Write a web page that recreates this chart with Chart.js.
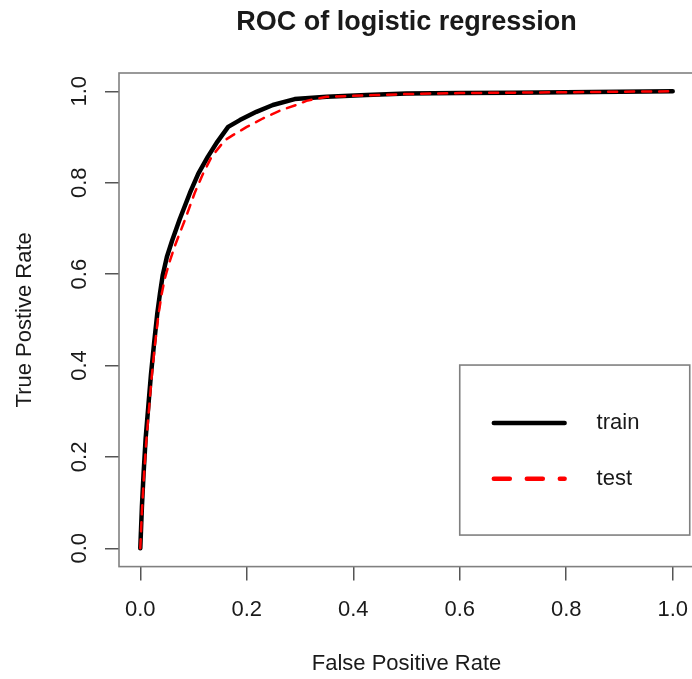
<!DOCTYPE html>
<html><head><meta charset="utf-8">
<script src="https://cdn.jsdelivr.net/npm/chart.js@4.4.0/dist/chart.umd.min.js"></script>
<style>html,body{margin:0;padding:0;background:#fff;overflow:hidden;width:692px;height:679px}</style>
</head><body>
<canvas id="c" width="700" height="679" style="display:block;width:700px;height:679px"></canvas>
<script>
// ---- data ----
const trainFPR = [0, 0.003, 0.006, 0.010, 0.015, 0.020, 0.026, 0.032, 0.037, 0.042, 0.050, 0.060, 0.074, 0.093, 0.109, 0.127, 0.145, 0.165, 0.187, 0.218, 0.249, 0.29, 0.35, 0.425, 0.5, 0.6, 0.7, 0.8, 0.9, 1.0];
const trainTPR = [0, 0.09, 0.16, 0.24, 0.31, 0.38, 0.45, 0.515, 0.558, 0.597, 0.638, 0.674, 0.72, 0.777, 0.82, 0.857, 0.89, 0.922, 0.937, 0.955, 0.970, 0.983, 0.988, 0.992, 0.995, 0.996, 0.997, 0.998, 0.999, 1.0];
const testFPR = [0, 0.003, 0.007, 0.011, 0.016, 0.021, 0.027, 0.034, 0.040, 0.046, 0.055, 0.065, 0.0836, 0.102, 0.118, 0.134, 0.159, 0.174, 0.2, 0.231, 0.265, 0.293, 0.312, 0.35, 0.425, 0.5, 0.6, 0.7, 0.8, 0.9, 1.0];
const testTPR = [0, 0.08, 0.16, 0.23, 0.30, 0.37, 0.44, 0.51, 0.555, 0.59, 0.627, 0.662, 0.718, 0.777, 0.82, 0.857, 0.893, 0.904, 0.922, 0.941, 0.959, 0.970, 0.979, 0.988, 0.991, 0.994, 0.996, 0.997, 0.998, 0.999, 1.0];
const xTicks = [0, 0.2, 0.4, 0.6, 0.8, 1.0];
const yTicks = [0, 0.2, 0.4, 0.6, 0.8, 1.0];
const seriesNames = ['train', 'test'];
const chartTitle = 'ROC of logistic regression';
const xTitle = 'False Positive Rate';
const yTitle = 'True Postive Rate';

const FONT = "'Liberation Sans', Arial, Helvetica, sans-serif";
const TXT = '#1a1a1a';
Chart.defaults.font.family = FONT;

const boxPlugin = {
  id: 'rbox',
  beforeDatasetsDraw(chart) {
    const {ctx, chartArea: a} = chart;
    ctx.save();
    ctx.strokeStyle = '#808080';
    ctx.lineWidth = 1.6;
    ctx.strokeRect(a.left, a.top, a.right - a.left, a.bottom - a.top);
    ctx.restore();
  }
};

const legendPlugin = {
  id: 'rlegend',
  afterDraw(chart) {
    const {ctx} = chart;
    const xs = chart.scales.x, ys = chart.scales.y;
    const X = v => xs.getPixelForValue(v), Y = v => ys.getPixelForValue(v);
    ctx.save();
    ctx.strokeStyle = '#808080';
    ctx.lineWidth = 1.6;
    const x0 = X(0.6), x1 = X(1.032), y0 = Y(0.401), y1 = Y(0.029);
    ctx.strokeRect(x0, y0, x1 - x0, y1 - y0);
    const rows = [0.274, 0.152];
    const ds = chart.data.datasets;
    rows.forEach((r, i) => {
      const y = Y(r);
      ctx.beginPath();
      ctx.lineCap = 'round';
      ctx.strokeStyle = ds[i].borderColor;
      ctx.lineWidth = 4.5;
      ctx.setLineDash(i === 0 ? [] : [16, 17]);
      ctx.moveTo(X(0.664), y);
      ctx.lineTo(X(0.797), y);
      ctx.stroke();
      ctx.setLineDash([]);
      ctx.fillStyle = TXT;
      ctx.font = '22px ' + FONT;
      ctx.textBaseline = 'middle';
      ctx.textAlign = 'left';
      ctx.fillText(ds[i].label, X(0.857), y);
    });
    ctx.restore();
  }
};

const mk = (xs, ys) => xs.map((x, i) => ({x: x, y: ys[i]}));

new Chart(document.getElementById('c'), {
  type: 'scatter',
  data: {
    datasets: [
      {label: seriesNames[0], data: mk(trainFPR, trainTPR), showLine: true, pointRadius: 0,
       borderColor: '#000000', borderWidth: 4.5, borderCapStyle: 'round', borderJoinStyle: 'round', tension: 0, order: 2},
      {label: seriesNames[1], data: mk(testFPR, testTPR), showLine: true, pointRadius: 0,
       borderColor: '#ff0000', borderWidth: 2.5, borderDash: [9, 8], borderCapStyle: 'round', borderJoinStyle: 'round', tension: 0, order: 1}
    ]
  },
  options: {
    responsive: false,
    animation: false,
    layout: {padding: {left: 0, right: 6, top: 0, bottom: 0}},
    plugins: {
      legend: {display: false},
      tooltip: {enabled: false},
      title: {display: true, text: chartTitle, fullSize: false, color: TXT,
              font: {family: FONT, size: 27, weight: 'bold'}, padding: {top: 6.3, bottom: 34.3}}
    },
    scales: {
      x: {
        type: 'linear', position: 'bottom', min: -0.04, max: 1.04,
        afterBuildTicks: s => { s.ticks = xTicks.map(v => ({value: v})); },
        afterFit: s => { s.height = 112.4; s.paddingLeft = 0; s.paddingRight = 0; },
        grid: {drawOnChartArea: false, drawTicks: true, tickLength: 14, color: '#555', lineWidth: 1.5},
        border: {display: false},
        ticks: {padding: 16.6, color: TXT, font: {family: FONT, size: 22}, autoSkip: false,
                minRotation: 0, maxRotation: 0, callback: v => Number(v).toFixed(1)},
        title: {display: true, text: xTitle, color: TXT, font: {family: FONT, size: 22}, padding: {top: 0, bottom: 1.8}}
      },
      y: {
        type: 'linear', position: 'left', min: -0.04, max: 1.04,
        afterBuildTicks: s => { s.ticks = yTicks.map(v => ({value: v})); },
        afterFit: s => { s.width = 119; },
        grid: {drawOnChartArea: false, drawTicks: true, tickLength: 14, color: '#555', lineWidth: 1.5},
        border: {display: false},
        ticks: {padding: 9.6, color: TXT, font: {family: FONT, size: 22}, autoSkip: false,
                minRotation: 90, maxRotation: 90, crossAlign: 'center', callback: v => Number(v).toFixed(1)},
        title: {display: true, text: yTitle, color: TXT, font: {family: FONT, size: 22}, padding: {top: 12.2, bottom: 0}}
      }
    }
  },
  plugins: [boxPlugin, legendPlugin]
});
</script>
</body></html>
